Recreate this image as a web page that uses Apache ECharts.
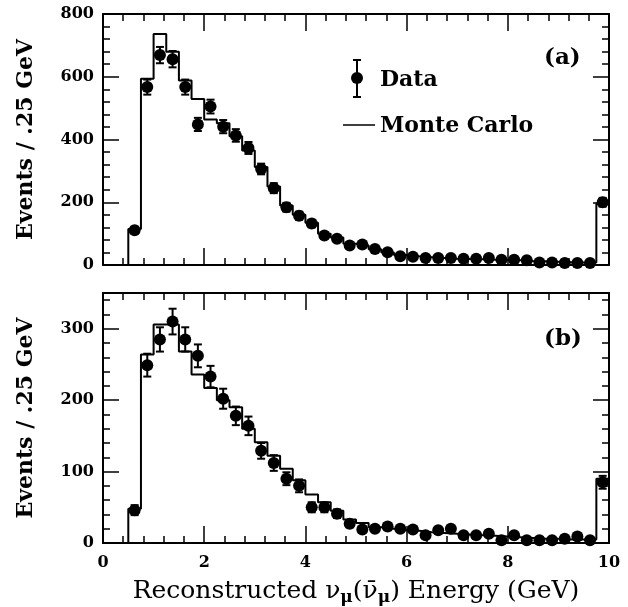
<!DOCTYPE html>
<html>
<head>
<meta charset="utf-8">
<script src="https://cdn.jsdelivr.net/npm/echarts@6/dist/echarts.min.js"></script>
<style>
  html, body { margin: 0; padding: 0; background: #fff; }
  #chart { width: 628px; height: 607px; }
</style>
</head>
<body>
<div id="chart"></div>
<script>
// bin centres (GeV), 0.25 GeV bins from 0.5 to 10
const binCenters = [
  0.625, 0.875, 1.125, 1.375, 1.625, 1.875, 2.125, 2.375, 2.625, 2.875,
  3.125, 3.375, 3.625, 3.875, 4.125, 4.375, 4.625, 4.875, 5.125, 5.375,
  5.625, 5.875, 6.125, 6.375, 6.625, 6.875, 7.125, 7.375, 7.625, 7.875,
  8.125, 8.375, 8.625, 8.875, 9.125, 9.375, 9.625, 9.875
];
const binHalf = 0.125;

// (a)
const dataA = [
  111, 567, 669, 656, 567, 448, 505, 441, 413, 373,
  306, 245, 184, 157, 132, 94, 84, 62, 65, 51,
  41, 28, 26, 22, 22, 22, 20, 20, 22, 17,
  17, 15, 8, 8, 6, 6, 6, 200
];
const errA = [
  11, 24, 26, 26, 24, 21, 22, 21, 20, 19,
  17, 16, 14, 13, 12, 10, 9, 8, 8, 7,
  6, 5, 5, 5, 5, 5, 4, 4, 5, 4,
  4, 4, 3, 3, 2, 2, 2, 14
];
const mcA = [
  115, 594, 736, 680, 588, 529, 464, 452, 410, 365,
  312, 250, 190, 160, 135, 100, 88, 68, 62, 50,
  40, 32, 28, 25, 22, 20, 19, 18, 17, 16,
  15, 13, 12, 10, 9, 8, 8, 195
];

// (b)
const dataB = [
  46, 249, 285, 310, 285, 262, 233, 202, 178, 164,
  129, 112, 90, 80, 50, 50, 41, 27, 19, 20,
  23, 20, 19, 11, 18, 20, 11, 11, 13, 4,
  11, 4, 4, 4, 6, 9, 4, 85
];
const errB = [
  7, 16, 17, 18, 17, 16, 15, 14, 13, 13,
  11, 11, 9, 9, 7, 7, 6, 5, 4, 4,
  5, 4, 4, 3, 4, 4, 3, 3, 4, 2,
  3, 2, 2, 2, 2, 3, 2, 9
];
const mcB = [
  48, 264, 306, 306, 268, 236, 217, 200, 190, 160,
  141, 122, 104, 88, 68, 57, 45, 33, 28, 22,
  20, 18, 17, 15, 14, 13, 12, 11, 10, 9,
  8, 7, 6, 6, 5, 5, 5, 90
];

const FONT = 'DejaVu Serif';

// histogram outline from the bin values
function stepPoints(vals) {
  const pts = [[binCenters[0] - binHalf, 0]];
  vals.forEach((v, i) => {
    pts.push([binCenters[i] - binHalf, v]);
    pts.push([binCenters[i] + binHalf, v]);
  });
  pts.push([binCenters[binCenters.length - 1] + binHalf, 0]);
  return pts;
}

function errorBars(vals, errs, xi, yi) {
  return {
    type: 'custom',
    xAxisIndex: xi,
    yAxisIndex: yi,
    data: vals.map((v, i) => [binCenters[i], v, errs[i]]),
    renderItem: (params, api) => {
      const x = api.value(0), y = api.value(1), e = api.value(2);
      const hi = api.coord([x, y + e]);
      const lo = api.coord([x, y - e]);
      const st = { stroke: '#000', lineWidth: 2 };
      return {
        type: 'group',
        children: [
          { type: 'line', shape: { x1: hi[0], y1: hi[1], x2: lo[0], y2: lo[1] }, style: st },
          { type: 'line', shape: { x1: hi[0] - 4, y1: hi[1], x2: hi[0] + 4, y2: hi[1] }, style: st },
          { type: 'line', shape: { x1: lo[0] - 4, y1: lo[1], x2: lo[0] + 4, y2: lo[1] }, style: st }
        ]
      };
    },
    z: 3
  };
}

const axisLine = { show: true, onZero: false, lineStyle: { color: '#000', width: 2 } };
const tickLabel = { color: '#000', fontFamily: FONT, fontWeight: 'bold', fontSize: 16 };

function xAxis(grid, pos, labels, extra) {
  return Object.assign({
    type: 'value', gridIndex: grid, position: pos, min: 0, max: 10, interval: 2,
    axisLine,
    axisTick: { show: true, inside: true, length: 17, lineStyle: { color: '#000', width: 1.5 } },
    minorTick: { show: true, splitNumber: 5, length: 7, lineStyle: { color: '#000', width: 1.5 } },
    axisLabel: Object.assign({ show: labels, margin: 12 }, tickLabel),
    splitLine: { show: false }, minorSplitLine: { show: false }
  }, extra || {});
}

function yAxis(grid, pos, max, interval, labels, minor, extra) {
  return Object.assign({
    type: 'value', gridIndex: grid, position: pos, min: 0, max, interval,
    axisLine,
    axisTick: { show: true, inside: true, length: 16, lineStyle: { color: '#000', width: 1.5 } },
    minorTick: { show: minor, splitNumber: 5, length: 7, lineStyle: { color: '#000', width: 1.5 } },
    axisLabel: Object.assign({ show: labels, margin: 9, showMaxLabel: max % interval === 0 }, tickLabel),
    splitLine: { show: false }, minorSplitLine: { show: false }
  }, extra || {});
}

const yName = {
  name: 'Events / .25 GeV',
  nameLocation: 'middle',
  nameGap: 66,
  nameRotate: 90,
  nameTextStyle: { color: '#000', fontFamily: FONT, fontWeight: 'bold', fontSize: 22 }
};

const minorY = { axisTick: { show: true, inside: true, length: 7, lineStyle: { color: '#000', width: 1.5 } } };

const chart = echarts.init(document.getElementById('chart'), null, { renderer: 'canvas' });

chart.setOption({
  backgroundColor: '#fff',
  animation: false,
  grid: [
    { left: 103, right: 19, top: 14, height: 251 },
    { left: 103, right: 19, top: 293, height: 251 }
  ],
  xAxis: [
    xAxis(0, 'bottom', false),
    xAxis(0, 'top', false),
    xAxis(1, 'bottom', true, {
      name: '{t|Reconstructed ν}{s|μ}{t|(ν̄}{s|μ}{t|) Energy (GeV)}',
      nameLocation: 'middle',
      nameGap: 33,
      nameTextStyle: {
        rich: {
          t: { fontFamily: FONT, fontSize: 25, color: '#000' },
          s: { fontFamily: FONT, fontSize: 17, fontWeight: 'bold', color: '#000', padding: [13, 0, 0, 0] }
        }
      }
    }),
    xAxis(1, 'top', false)
  ],
  yAxis: [
    yAxis(0, 'left', 800, 200, true, true, yName),
    yAxis(0, 'right', 800, 200, false, true),
    yAxis(1, 'left', 350, 100, true, false, yName),
    yAxis(1, 'right', 350, 100, false, false),
    // minor ticks for (b): every 20 events
    yAxis(1, 'left', 350, 20, false, false, minorY),
    yAxis(1, 'right', 350, 20, false, false, minorY)
  ],
  series: [
    {
      type: 'line', xAxisIndex: 0, yAxisIndex: 0, data: stepPoints(mcA),
      symbol: 'none', lineStyle: { color: '#000', width: 2 }, z: 2
    },
    errorBars(dataA, errA, 0, 0),
    {
      type: 'scatter', xAxisIndex: 0, yAxisIndex: 0,
      data: dataA.map((v, i) => [binCenters[i], v]),
      symbol: 'circle', symbolSize: 12, itemStyle: { color: '#000', opacity: 1 }, z: 4
    },
    {
      type: 'line', xAxisIndex: 2, yAxisIndex: 2, data: stepPoints(mcB),
      symbol: 'none', lineStyle: { color: '#000', width: 2 }, z: 2
    },
    errorBars(dataB, errB, 2, 2),
    {
      type: 'scatter', xAxisIndex: 2, yAxisIndex: 2,
      data: dataB.map((v, i) => [binCenters[i], v]),
      symbol: 'circle', symbolSize: 12, itemStyle: { color: '#000', opacity: 1 }, z: 4
    }
  ],
  graphic: [
    // legend: data point with error bar
    { type: 'line', shape: { x1: 357, y1: 60, x2: 357, y2: 97 }, style: { stroke: '#000', lineWidth: 2 } },
    { type: 'line', shape: { x1: 353, y1: 60, x2: 361, y2: 60 }, style: { stroke: '#000', lineWidth: 2 } },
    { type: 'line', shape: { x1: 353, y1: 97, x2: 361, y2: 97 }, style: { stroke: '#000', lineWidth: 2 } },
    { type: 'circle', shape: { cx: 357, cy: 78, r: 6 }, style: { fill: '#000' } },
    { type: 'text', x: 380, y: 80, style: { text: 'Data', fill: '#000', font: 'bold 22px "DejaVu Serif"', verticalAlign: 'middle' } },
    // legend: MC line
    { type: 'line', shape: { x1: 343, y1: 125, x2: 375, y2: 125 }, style: { stroke: '#000', lineWidth: 1.5 } },
    { type: 'text', x: 380, y: 126, style: { text: 'Monte Carlo', fill: '#000', font: 'bold 22px "DejaVu Serif"', verticalAlign: 'middle' } },
    // panel labels
    { type: 'text', x: 544, y: 58, style: { text: '(a)', fill: '#000', font: 'bold 23px "DejaVu Serif"', verticalAlign: 'middle' } },
    { type: 'text', x: 544, y: 339, style: { text: '(b)', fill: '#000', font: 'bold 23px "DejaVu Serif"', verticalAlign: 'middle' } }
  ]
});
</script>
</body>
</html>
